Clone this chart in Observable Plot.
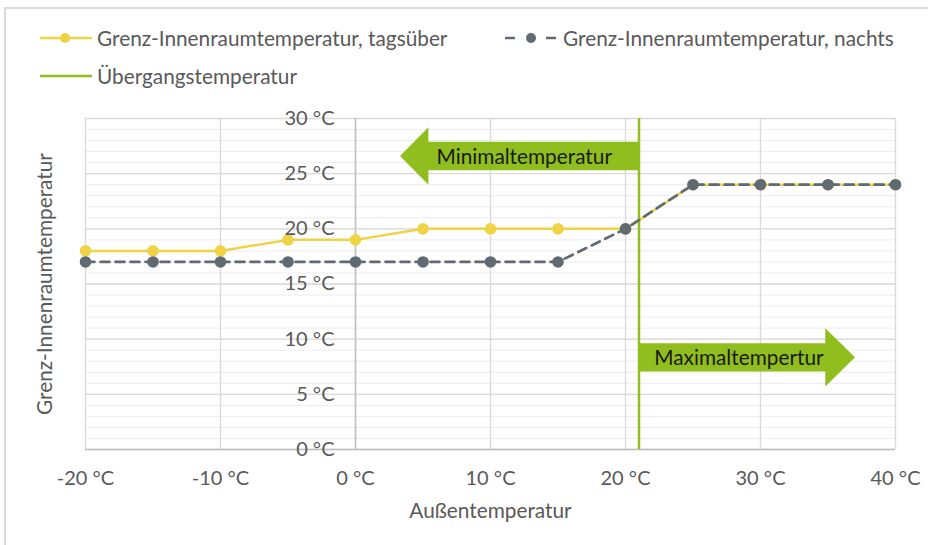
<!DOCTYPE html>
<html><head><meta charset="utf-8">
<script src="https://cdn.jsdelivr.net/npm/d3@7"></script>
<script src="https://cdn.jsdelivr.net/npm/@observablehq/plot@0.6"></script>
<style>
body{margin:0;background:#fff;font-family:Lato,sans-serif;}
#wrap{position:relative;width:928px;height:545px;overflow:hidden;background:#fff;}
#frame{position:absolute;left:4px;top:7px;width:960px;height:600px;border-left:2px solid #d9d9d9;border-top:2px solid #d9d9d9;}
#legend{position:absolute;left:0;top:0;width:928px;height:100px;}
.lab{position:absolute;color:#595959;font-size:20.8px;line-height:24px;white-space:nowrap;}
.sw{position:absolute;}
#chart{position:absolute;left:0;top:100px;}
</style></head>
<body><div id="wrap"><div id="frame"></div><div id="legend"></div><div id="chart"></div></div>
<script>
// ---- data ----
const aussen = [-20, -15, -10, -5, 0, 5, 10, 15, 20, 25, 30, 35, 40];
const tagsueber = [18, 18, 18, 19, 19, 20, 20, 20, 20, 24, 24, 24, 24];
const nachts = [17, 17, 17, 17, 17, 17, 17, 17, 20, 24, 24, 24, 24];
const uebergang = 21;
const xTicks = [-20, -10, 0, 10, 20, 30, 40];
const yTicks = [0, 5, 10, 15, 20, 25, 30];
const yMinor = d3.range(0, 31, 1);
const seriesNames = ["Grenz-Innenraumtemperatur, tagsüber", "Grenz-Innenraumtemperatur, nachts", "Übergangstemperatur"];
const arrowLabels = ["Minimaltemperatur", "Maximaltempertur"];
const xTitle = "Außentemperatur";
const yTitle = "Grenz-Innenraumtemperatur";

// ---- styles / layout ----
const YELLOW = "#f0d245", GRAY = "#5f6a72", GREEN = "#8fbe1e", TEXT = "#595959";
const FS = 20, FS2 = 20.8;
// arrow geometry in data units
const arrows = [
  {label: arrowLabels[0], tail: uebergang, headBase: 5.4, tip: 3.3, y: 26.6, body: 1.3, head: 2.6, labelX: 12.5},
  {label: arrowLabels[1], tail: uebergang, headBase: 34.8, tip: 37.0, y: 8.35, body: 1.27, head: 2.63, labelX: 28.4}
];
function arrowPolygon(a) {
  return [[a.tail, a.y + a.body], [a.headBase, a.y + a.body], [a.headBase, a.y + a.head], [a.tip, a.y],
          [a.headBase, a.y - a.head], [a.headBase, a.y - a.body], [a.tail, a.y - a.body]];
}

const day = aussen.map((x, i) => ({x, y: tagsueber[i]}));
const night = aussen.map((x, i) => ({x, y: nachts[i]}));

// ---- legend ----
const legend = document.getElementById("legend");
const svgNS = "http://www.w3.org/2000/svg";
function swatch(left, top, w, build) {
  const s = document.createElementNS(svgNS, "svg");
  s.setAttribute("width", w); s.setAttribute("height", 20);
  s.setAttribute("class", "sw");
  s.style.left = left + "px"; s.style.top = top + "px";
  s.innerHTML = build;
  legend.appendChild(s);
}
function label(left, cy, text) {
  const d = document.createElement("div");
  d.className = "lab"; d.textContent = text;
  d.style.left = left + "px"; d.style.top = (cy - 12) + "px";
  legend.appendChild(d);
}
swatch(38, 28, 56, `<line x1="2" x2="54" y1="10" y2="10" stroke="${YELLOW}" stroke-width="2.5"/><circle cx="27" cy="10" r="5" fill="${YELLOW}"/>`);
label(97, 38, seriesNames[0]);
swatch(503, 28, 56, `<line x1="2" x2="54" y1="10" y2="10" stroke="${GRAY}" stroke-width="2.5" stroke-dasharray="10,31"/><circle cx="28" cy="10" r="5" fill="${GRAY}"/>`);
label(563, 38, seriesNames[1]);
swatch(38, 66, 56, `<line x1="2" x2="54" y1="10" y2="10" stroke="${GREEN}" stroke-width="2.5"/>`);
label(97, 76, seriesNames[2]);

// ---- chart ----
const chart = Plot.plot({
  width: 928, height: 445,
  marginTop: 18, marginBottom: 96, marginLeft: 85, marginRight: 33,
  x: {domain: [-20, 40], axis: null},
  y: {domain: [0, 30], axis: null},
  style: {fontFamily: "Lato, sans-serif", background: "transparent", overflow: "visible"},
  marks: [
    Plot.ruleY(yMinor, {stroke: "#ececec", strokeWidth: 1}),
    Plot.ruleY(yTicks, {stroke: "#d9d9d9", strokeWidth: 1.3}),
    Plot.ruleX(xTicks, {stroke: "#d9d9d9", strokeWidth: 1.3}),
    Plot.ruleX([0], {stroke: "#bfbfbf", strokeWidth: 1.5}),
    Plot.ruleY([0], {stroke: "#bfbfbf", strokeWidth: 1.5}),
    ...arrows.map(a => Plot.line(arrowPolygon(a), {x: d => d[0], y: d => d[1], fill: GREEN, stroke: "none", curve: "linear-closed"})),
    Plot.text(arrows, {x: "labelX", y: "y", text: "label", fill: "#1a1a1a", fontSize: FS2, dy: 1}),
    Plot.ruleX([uebergang], {stroke: GREEN, strokeWidth: 2.5}),
    Plot.line(day, {x: "x", y: "y", stroke: YELLOW, strokeWidth: 2.5}),
    Plot.dot(day, {x: "x", y: "y", r: 5.8, fill: YELLOW}),
    Plot.line(night, {x: "x", y: "y", stroke: GRAY, strokeWidth: 2.7, strokeDasharray: "9,6"}),
    Plot.dot(night, {x: "x", y: "y", r: 5.8, fill: GRAY}),
    Plot.text(yTicks, {x: 0, y: d => d, text: d => `${d} °C`, textAnchor: "end", dx: -21, fill: TEXT, fontSize: FS}),
    Plot.text(xTicks, {x: d => d, y: 0, text: d => `${d} °C`, dy: 29, fill: TEXT, fontSize: FS}),
    Plot.text([xTitle], {frameAnchor: "bottom", text: d => d, dy: 62, lineAnchor: "middle", fill: TEXT, fontSize: FS2}),
    Plot.text([yTitle], {frameAnchor: "left", text: d => d, dx: -40, rotate: -90, textAnchor: "middle", lineAnchor: "middle", fill: TEXT, fontSize: FS2})
  ]
});
document.getElementById("chart").appendChild(chart);
</script></body></html>
